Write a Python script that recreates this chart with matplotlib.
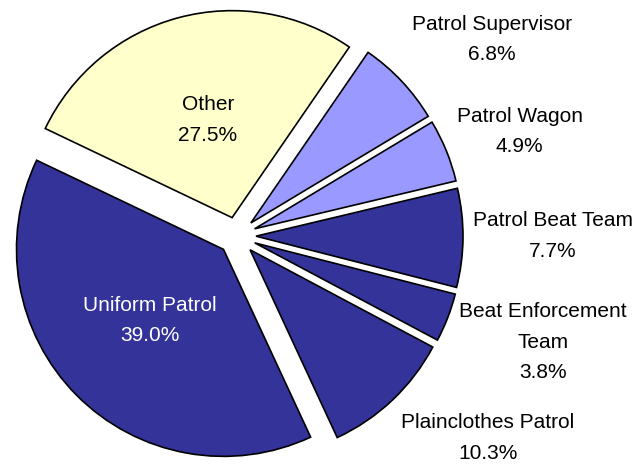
import numpy as np
import matplotlib
matplotlib.use('Agg')
import matplotlib.pyplot as plt

plt.rcParams['font.family'] = ['Liberation Sans', 'DejaVu Sans']

# Data
categories = ['Patrol Supervisor', 'Patrol Wagon', 'Patrol Beat Team',
              'Beat Enforcement\nTeam', 'Plainclothes Patrol',
              'Uniform Patrol', 'Other']
shares = [6.8, 4.9, 7.7, 3.8, 10.3, 39.0, 27.5]
colors = ['#9999FF', '#9999FF', '#333399', '#333399', '#333399', '#333399', '#FFFFCC']
inside = [False, False, False, False, False, True, True]
inside_color = {'Uniform Patrol': 'white', 'Other': 'black'}
# small hand tweaks of the label positions (pixels, x right / y up)
label_nudge = [(3, 10), (1, -9), (0, 2), (2, 19), (2, -6), (-2, 0), (2, 0)]

fig = plt.figure(figsize=(6.41, 4.65), dpi=100)
ax = fig.add_axes([0, 0, 1, 1])

cx, cy, R = 237, 229, 207
gap = 19  # explode distance in pixels
explode = [gap] * len(shares)

wedges, _ = ax.pie(shares, colors=colors, startangle=55.5, counterclock=False,
                   explode=explode, radius=R, center=(cx, cy),
                   wedgeprops=dict(edgecolor='black', linewidth=1.2),
                   frame=True)
ax.set_xlim(0, 641)
ax.set_ylim(0, 465)
ax.set_aspect('equal')
ax.axis('off')

for w, name, val, ins, (nx, ny) in zip(wedges, categories, shares, inside, label_nudge):
    mid = np.deg2rad((w.theta1 + w.theta2) / 2)
    txt = f'{name}\n{val:.1f}%'
    if ins:
        r = 0.58 * R
        ax.text(cx + r * np.cos(mid) + nx, cy + r * np.sin(mid) + ny, txt,
                ha='center', va='center', fontsize=15,
                color=inside_color[name], linespacing=1.75)
    else:
        r = R + gap + 10
        s = np.sin(mid)
        va = 'bottom' if s > 0.3 else ('top' if s < -0.3 else 'center')
        ha = 'left' if np.cos(mid) > 0 else 'right'
        ax.text(cx + r * np.cos(mid) + nx, cy + r * s + ny, txt,
                ha=ha, va=va, fontsize=15, multialignment='center',
                linespacing=1.75)

plt.savefig('out.png', dpi=100)
plt.close(fig)
